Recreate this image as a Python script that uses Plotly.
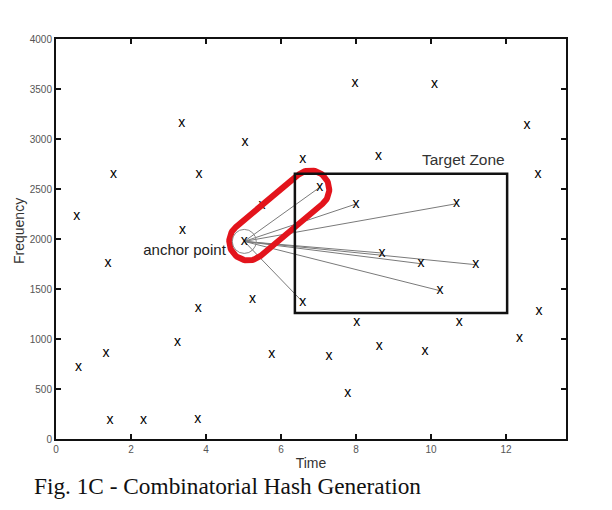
import math
import plotly.graph_objects as go

# ---- data ----
bg_time = [0.55, 1.53, 3.35, 3.81, 5.04, 6.58, 3.37, 5.49, 7.97, 10.09, 12.56, 12.85,
           8.60, 1.39, 5.24, 3.79, 3.24, 1.33, 0.60, 5.75, 1.44, 2.33, 3.78,
           8.02, 10.75, 12.88, 12.36, 8.62, 9.84, 7.28, 7.78]
bg_freq = [2230, 2650, 3153, 2650, 2967, 2800, 2086, 2336, 3560, 3550, 3140, 2650,
           2823, 1760, 1393, 1306, 970, 860, 720, 850, 186, 186, 200,
           1166, 1166, 1280, 1006, 930, 873, 823, 453]
pair_time = [7.03, 8.00, 10.68, 8.69, 9.73, 11.19, 10.24, 6.58]
pair_freq = [2516, 2350, 2353, 1860, 1753, 1743, 1483, 1370]
anchor_time, anchor_freq = 5.02, 1976
zone_time = [6.37, 12.03]
zone_freq = [1260, 2653]
x_ticks = [0, 2, 4, 6, 8, 10, 12]
y_ticks = [0, 500, 1000, 1500, 2000, 2500, 3000, 3500, 4000]

X_RANGE = [0, 13.6]
Y_RANGE = [0, 4000]
W, H = 604, 502
ML, MR, MT, MB = 48, 46, 31, 71
pw, ph = W - ML - MR, H - MT - MB
kx = pw / (X_RANGE[1] - X_RANGE[0])   # px per time unit
ky = ph / (Y_RANGE[1] - Y_RANGE[0])   # px per freq unit

fig = go.Figure()

# anchor-pair lines
lx, ly = [], []
for t, f in zip(pair_time, pair_freq):
    lx += [anchor_time, t, None]
    ly += [anchor_freq, f, None]
fig.add_trace(go.Scatter(x=lx, y=ly, mode="lines",
                         line=dict(color="#7a7a7a", width=1), hoverinfo="skip"))

# all peaks as "x" glyphs
all_t = bg_time + pair_time + [anchor_time]
all_f = bg_freq + pair_freq + [anchor_freq]
fig.add_trace(go.Scatter(x=all_t, y=all_f, mode="text", text=["x"] * len(all_t),
                         textposition="middle center",
                         textfont=dict(family="Liberation Sans", size=14, color="#000")))

# anchor point label
fig.add_trace(go.Scatter(x=[anchor_time - 101 / kx], y=[anchor_freq - 95],
                         mode="text", text=["anchor point"], textposition="middle right",
                         textfont=dict(family="Liberation Sans", size=15, color="#222")))

# red loop around anchor and first pair, built in pixel offsets from the anchor
ax_px, ay_px = 4.0, 0.0
bx_px, by_px = 66.0, -52.0
r = 19.0
ang = math.atan2(by_px - ay_px, bx_px - ax_px)
pts = []
for i in range(41):
    a = ang - math.pi / 2 + math.pi * i / 40
    pts.append((bx_px + r * math.cos(a), by_px + r * math.sin(a)))
for i in range(41):
    a = ang + math.pi / 2 + math.pi * i / 40
    pts.append((ax_px + r * math.cos(a), ay_px + r * math.sin(a)))
pts.append(pts[0])
rx = [anchor_time + px / kx for px, py in pts]
ry = [anchor_freq - py / ky for px, py in pts]
fig.add_trace(go.Scatter(x=rx, y=ry, mode="lines",
                         line=dict(color="#e3141c", width=6), hoverinfo="skip"))

# target zone box
fig.add_shape(type="rect", x0=zone_time[0], x1=zone_time[1], y0=zone_freq[0], y1=zone_freq[1],
              line=dict(color="#111", width=2.5))
# small circle around anchor
fig.add_shape(type="circle", xref="x", yref="y", xsizemode="pixel", ysizemode="pixel",
              xanchor=anchor_time, yanchor=anchor_freq, x0=-12, x1=12, y0=-12, y1=12,
              line=dict(color="#888", width=1))

fig.add_annotation(x=zone_time[1], y=zone_freq[1] + 140, xref="x", yref="y",
                   text="Target Zone", showarrow=False, xanchor="right", yanchor="middle",
                   font=dict(family="Liberation Sans", size=15.5, color="#333"))

fig.add_annotation(x=(24 - ML) / pw, y=(H - MB - 478) / ph, xref="paper", yref="paper",
                   text="Fig. 1C - Combinatorial Hash Generation", showarrow=False,
                   xanchor="left", yanchor="middle",
                   font=dict(family="Liberation Serif", size=23.3, color="#111"))

# y-axis title
fig.add_annotation(x=(1 - ML) / pw, y=(H - MB - 223) / ph, xref="paper", yref="paper",
                   text="Frequency", showarrow=False, textangle=-90,
                   xanchor="left", yanchor="middle",
                   font=dict(family="Liberation Sans", size=14, color="#333"))

axis_common = dict(showgrid=False, zeroline=False, showline=True, linecolor="#111",
                   linewidth=2, mirror="ticks", ticks="inside", ticklen=5,
                   tickcolor="#111", tickwidth=1.5,
                   tickfont=dict(family="Liberation Sans", size=10, color="#555"))
fig.update_xaxes(range=X_RANGE, tickvals=x_ticks, ticktext=[str(v) for v in x_ticks],
                 title=dict(text="Time", standoff=4,
                            font=dict(family="Liberation Sans", size=14, color="#333")),
                 **axis_common)
fig.update_yaxes(range=Y_RANGE, tickvals=y_ticks, ticktext=[str(v) for v in y_ticks],
                 **axis_common)

fig.update_layout(width=W, height=H, margin=dict(l=ML, r=MR, t=MT, b=MB, autoexpand=False),
                  plot_bgcolor="white", paper_bgcolor="white", showlegend=False)

fig.write_html("out.html")
